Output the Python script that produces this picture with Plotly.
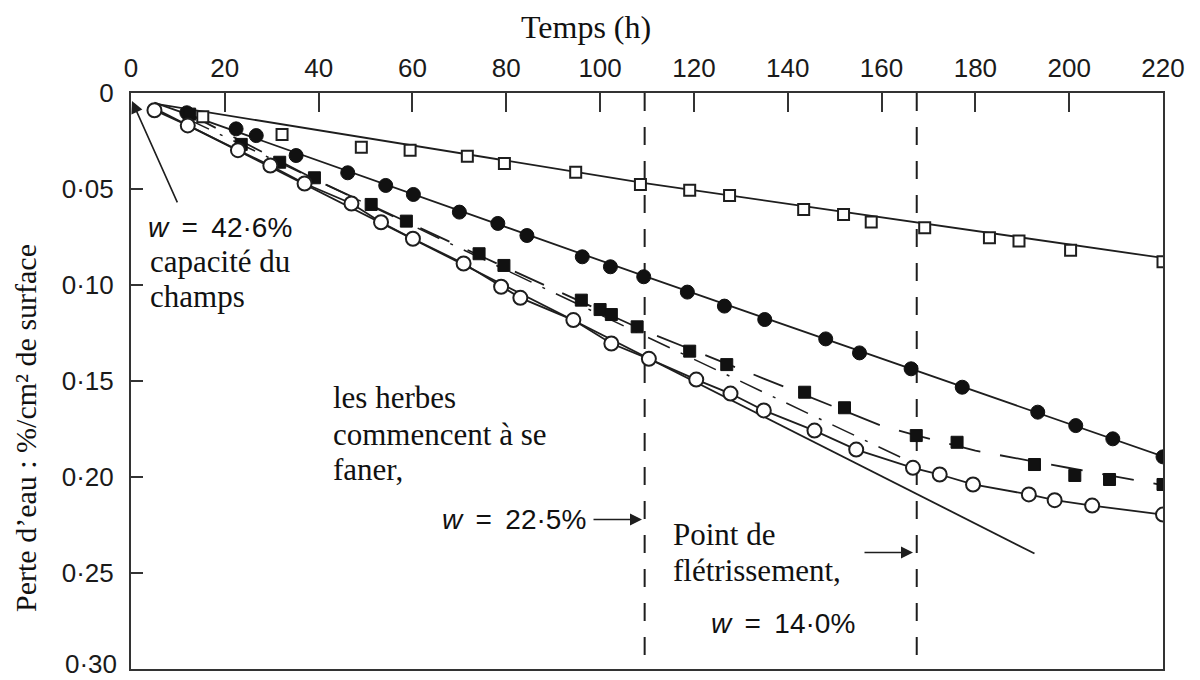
import plotly.graph_objects as go

# ---------------- data ----------------
# open squares
sq_open_x = [15.3, 32.2, 49.1, 59.5, 71.7, 79.6, 94.8, 108.6, 119.1, 127.6, 143.4, 151.9, 157.8,
             169.2, 183.0, 189.3, 200.3, 220.0]
sq_open_y = [0.0124, 0.0216, 0.0283, 0.0298, 0.0330, 0.0368, 0.0413, 0.0477, 0.0507, 0.0534,
             0.0607, 0.0633, 0.0672, 0.0703, 0.0755, 0.0772, 0.0820, 0.0880]
sq_open_fit_x = [5, 109.5, 220]
sq_open_fit_y = [0.0055, 0.047, 0.086]

# filled circles
circ_fill_x = [11.9, 22.4, 26.7, 35.2, 46.2, 54.3, 60.2, 70.0, 78.2, 84.4, 96.2, 102.2, 109.3,
               118.6, 126.5, 135.1, 148.1, 155.3, 166.3, 177.2, 193.3, 201.4, 209.3, 220.0]
circ_fill_y = [0.0103, 0.0187, 0.0222, 0.0326, 0.0416, 0.0482, 0.0529, 0.0621, 0.0680, 0.0743,
               0.0854, 0.0906, 0.0958, 0.1038, 0.1111, 0.1181, 0.1282, 0.1355, 0.1438, 0.1534,
               0.1664, 0.1734, 0.1803, 0.1897]
circ_fill_fit_x = [5, 109.5, 220]
circ_fill_fit_y = [0.005, 0.0955, 0.1895]

# filled squares
sq_fill_x = [12.5, 23.5, 31.7, 39.1, 51.2, 58.7, 74.2, 79.5, 96.0, 100.0, 102.4, 107.9, 119.1,
             127.0, 143.6, 152.1, 167.4, 176.1, 192.6, 201.2, 208.6, 220.0]
sq_fill_y = [0.0110, 0.0268, 0.0361, 0.0442, 0.0581, 0.0668, 0.0838, 0.0899, 0.1080, 0.1129,
             0.1155, 0.1219, 0.1346, 0.1416, 0.1560, 0.1641, 0.1786, 0.1821, 0.1937, 0.1994,
             0.2015, 0.2041]
sq_fill_fit_x = [12, 40, 75, 110, 135, 160, 167, 180, 200, 220]
sq_fill_fit_y = [0.0105, 0.046, 0.0855, 0.1245, 0.149, 0.1735, 0.1783, 0.1865, 0.1955, 0.2045]
dashdot_x = [12, 165]
dashdot_y = [0.0135, 0.191]

# open circles
circ_open_x = [5.0, 12.1, 22.8, 29.7, 37.0, 47.0, 53.3, 60.1, 70.9, 78.9, 83.0, 94.3, 102.4,
               110.4, 120.5, 127.8, 134.9, 145.7, 154.6, 166.7, 172.4, 179.5, 191.4, 196.9,
               204.9, 220.0]
circ_open_y = [0.0090, 0.0169, 0.0298, 0.0378, 0.0472, 0.0576, 0.0674, 0.0760, 0.0889, 0.1010,
               0.1068, 0.1184, 0.1306, 0.1386, 0.1494, 0.1567, 0.1655, 0.1760, 0.1859, 0.1954,
               0.1989, 0.2041, 0.2093, 0.2123, 0.2151, 0.2198]
straight_x = [5, 192.6]
straight_y = [0.008, 0.2401]

# vertical reference lines (h)
vlines_x = [109.5, 167.5]

x_ticks = [0, 20, 40, 60, 80, 100, 120, 140, 160, 180, 200, 220]
y_ticks = [0, 0.05, 0.10, 0.15, 0.20, 0.25, 0.30]
y_tick_text = ["0", "0·05", "0·10", "0·15", "0·20", "0·25", "0·30"]

# ---------------- layout geometry ----------------
W, H = 1200, 680
L, R, T, B = 131, 37, 93, 11
PW, PH = W - L - R, H - T - B
XMAX, YMAX = 220, 0.30


def P(px, py):
    """pixel position -> data coordinates (for placing annotations)"""
    return (px - L) / PW * XMAX, (py - T) / PH * YMAX


INK = "#1e1e1e"
SANS = "Liberation Sans, Arial, sans-serif"
SERIF = "Liberation Serif, Times New Roman, serif"

fig = go.Figure()

# fitted / guide lines
fig.add_trace(go.Scatter(x=sq_open_fit_x, y=sq_open_fit_y, mode="lines",
                         line=dict(color=INK, width=1.8), showlegend=False))
fig.add_trace(go.Scatter(x=circ_fill_fit_x, y=circ_fill_fit_y, mode="lines",
                         line=dict(color=INK, width=1.8), showlegend=False))
fig.add_trace(go.Scatter(x=sq_fill_fit_x, y=sq_fill_fit_y, mode="lines",
                         line=dict(color=INK, width=1.8, dash="32px,20px"), showlegend=False))
fig.add_trace(go.Scatter(x=dashdot_x, y=dashdot_y, mode="lines",
                         line=dict(color=INK, width=1.5, dash="24px,12px,3px,12px"), showlegend=False))
fig.add_trace(go.Scatter(x=straight_x, y=straight_y, mode="lines",
                         line=dict(color=INK, width=1.8), showlegend=False))
fig.add_trace(go.Scatter(x=circ_open_x, y=circ_open_y, mode="lines",
                         line=dict(color=INK, width=1.8), showlegend=False))

# markers
fig.add_trace(go.Scatter(x=sq_open_x, y=sq_open_y, mode="markers",
                         marker=dict(symbol="square", size=11, color="white",
                                     line=dict(color=INK, width=2)), showlegend=False))
fig.add_trace(go.Scatter(x=circ_fill_x, y=circ_fill_y, mode="markers",
                         marker=dict(symbol="circle", size=14, color="#111111",
                                     line=dict(color="#111111", width=1)), showlegend=False))
fig.add_trace(go.Scatter(x=sq_fill_x, y=sq_fill_y, mode="markers",
                         marker=dict(symbol="square", size=12, color="#111111",
                                     line=dict(color="#111111", width=1)), showlegend=False))
fig.add_trace(go.Scatter(x=circ_open_x, y=circ_open_y, mode="markers",
                         marker=dict(symbol="circle", size=14, color="white",
                                     line=dict(color=INK, width=2)), showlegend=False))

# vertical dashed lines
for vx in vlines_x:
    fig.add_shape(type="line", xref="x", yref="y", x0=vx, x1=vx, y0=0, y1=YMAX,
                  line=dict(color=INK, width=2, dash="18px,16px"), layer="below")

annotations = []


def text_ann(px, baseline, text, size, family):
    """single line of text, left edge at px, baseline at given pixel row"""
    x, y = P(px, baseline - 0.27 * size)
    annotations.append(dict(x=x, y=y, xref="x", yref="y", text=text, showarrow=False,
                            xanchor="left", yanchor="middle", align="left",
                            font=dict(size=size, family=family, color="#111111")))


def arrow_ann(tail, head):
    tx, ty = P(*tail)
    hx, hy = P(*head)
    annotations.append(dict(x=hx, y=hy, ax=tx, ay=ty, xref="x", yref="y", axref="x", ayref="y",
                            text="", showarrow=True, arrowhead=2, arrowsize=1.5,
                            arrowwidth=1.6, arrowcolor=INK, standoff=0, startstandoff=0))


SP = "\u00a0\u2009"
SERIF_SIZE = 31
W_SIZE = 28

text_ann(146, 235, "<i>w</i>" + SP + "=" + SP + "42·6%", W_SIZE, SANS)
text_ann(148, 270, "capacité du", SERIF_SIZE, SERIF)
text_ann(148, 305, "champs", SERIF_SIZE, SERIF)
text_ann(331, 406, "les herbes", SERIF_SIZE, SERIF)
text_ann(331, 443, "commencent à se", SERIF_SIZE, SERIF)
text_ann(331, 478, "faner,", SERIF_SIZE, SERIF)
text_ann(440, 527, "<i>w</i>" + SP + "=" + SP + "22·5%", W_SIZE, SANS)
text_ann(671, 543, "Point de", SERIF_SIZE, SERIF)
text_ann(671, 579, "flétrissement,", SERIF_SIZE, SERIF)
text_ann(709, 632, "<i>w</i>" + SP + "=" + SP + "14·0%", W_SIZE, SANS)

arrow_ann((178, 204), (132, 101))
arrow_ann((592, 520), (642, 520))
arrow_ann((863, 553), (913, 553))

# the last y tick label sits on the bottom edge: draw it slightly lifted so it stays whole
axis_tick_text = y_tick_text[:-1] + [""]
annotations.append(dict(x=(119 - L) / PW, y=(H - B - 664) / PH, xref="paper", yref="paper",
                        text=y_tick_text[-1], showarrow=False, xanchor="right", yanchor="middle",
                        font=dict(size=26, family=SANS, color="#1a1a1a")))

# axis titles
annotations.append(dict(x=(586 - L) / PW, y=(H - B - 27) / PH, xref="paper", yref="paper",
                        text="Temps (h)", showarrow=False, xanchor="center", yanchor="middle",
                        font=dict(size=32, family=SERIF, color="#111111")))
annotations.append(dict(x=(25 - L) / PW, y=(H - B - 428) / PH, xref="paper", yref="paper",
                        text="Perte d’eau : %/cm² de surface", textangle=-90, showarrow=False,
                        xanchor="center", yanchor="middle",
                        font=dict(size=30, family=SERIF, color="#111111")))

fig.update_layout(
    width=W, height=H,
    margin=dict(l=L, r=R, t=T, b=B, autoexpand=False),
    paper_bgcolor="white", plot_bgcolor="white",
    showlegend=False,
    annotations=annotations,
    xaxis=dict(range=[0, XMAX], side="top", tickvals=x_ticks, ticks="inside", ticklen=19,
               tickwidth=2, tickcolor="#333", showline=True, linecolor="#333", linewidth=2,
               mirror=True, showgrid=False, zeroline=False, ticklabeloverflow="allow",
               automargin=False,
               tickfont=dict(size=26, family=SANS, color="#1a1a1a"), ticklabelstandoff=4),
    yaxis=dict(range=[YMAX + 0.0003, 0], tickvals=y_ticks, ticktext=axis_tick_text, ticks="inside",
               ticklen=12, tickwidth=2, tickcolor="#333", showline=True, linecolor="#333",
               linewidth=2, mirror=True, showgrid=False, zeroline=False,
               ticklabeloverflow="allow", automargin=False,
               tickfont=dict(size=26, family=SANS, color="#1a1a1a"), ticklabelstandoff=10),
)

fig.write_html("out.html")
